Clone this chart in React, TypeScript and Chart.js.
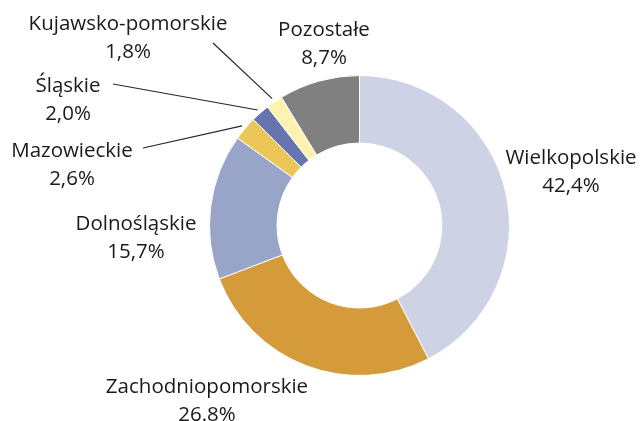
import React, { useEffect, useRef } from "react";
import { Chart, registerables } from "chart.js";

Chart.register(...registerables);

const categories = [
  "Wielkopolskie",
  "Zachodniopomorskie",
  "Dolnośląskie",
  "Mazowieckie",
  "Śląskie",
  "Kujawsko-pomorskie",
  "Pozostałe",
];
const values = [42.4, 26.8, 15.7, 2.6, 2.0, 1.8, 8.7];
const valueLabels = ["42,4%", "26.8%", "15,7%", "2,6%", "2,0%", "1,8%", "8,7%"];
const colors = ["#CDD2E5", "#D59B3A", "#98A5C9", "#EBC757", "#6675AE", "#FFF2B0", "#808080"];

// label centre (x, y of first line) in page pixels
const labelPos: [number, number][] = [
  [571, 158],
  [207, 387],
  [136, 224],
  [72, 151],
  [68, 86],
  [128, 24],
  [324, 30],
];
// leader line outer end (null = no leader)
const leaderEnd: ([number, number] | null)[] = [null, null, null, [143, 148], [113, 84], [213, 43], null];

const FONT = "20.5px 'Open Sans', 'Noto Sans', sans-serif";
const LINE_H = 28;

const labelPlugin = {
  id: "outerLabels",
  afterDraw(chart: any) {
    const ctx = chart.ctx as CanvasRenderingContext2D;
    const meta = chart.getDatasetMeta(0);
    ctx.save();
    meta.data.forEach((arc: any, i: number) => {
      const end = leaderEnd[i];
      if (end) {
        const p = arc.getProps(["x", "y", "startAngle", "endAngle", "outerRadius"], true);
        const mid = (p.startAngle + p.endAngle) / 2;
        const r = p.outerRadius + 4;
        ctx.beginPath();
        ctx.strokeStyle = "#262626";
        ctx.lineWidth = 1.2;
        ctx.moveTo(p.x + Math.cos(mid) * r, p.y + Math.sin(mid) * r);
        ctx.lineTo(end[0], end[1]);
        ctx.stroke();
      }
      const [lx, ly] = labelPos[i];
      ctx.fillStyle = "#1a1a1a";
      ctx.font = FONT;
      ctx.textAlign = "center";
      ctx.textBaseline = "middle";
      ctx.fillText(categories[i], lx, ly);
      ctx.fillText(valueLabels[i], lx, ly + LINE_H);
    });
    ctx.restore();
  },
};

export default function App() {
  const ref = useRef<HTMLCanvasElement>(null);
  useEffect(() => {
    if (!ref.current) return;
    const chart = new Chart(ref.current, {
      type: "doughnut",
      data: {
        labels: categories,
        datasets: [
          {
            data: values,
            backgroundColor: colors,
            borderColor: "#ffffff",
            borderWidth: 1,
          },
        ],
      },
      options: {
        animation: false,
        responsive: false,
        cutout: "55%",
        layout: { padding: { left: 209, top: 75, right: 134, bottom: 45 } },
        plugins: { legend: { display: false }, tooltip: { enabled: false } },
      },
      plugins: [labelPlugin],
    });
    return () => chart.destroy();
  }, []);
  return (
    <div style={{ position: "fixed", left: 0, top: 0, width: 644, height: 421, background: "#fff" }}>
      <canvas ref={ref} width={644} height={421} style={{ width: 644, height: 421, display: "block" }} />
    </div>
  );
}
